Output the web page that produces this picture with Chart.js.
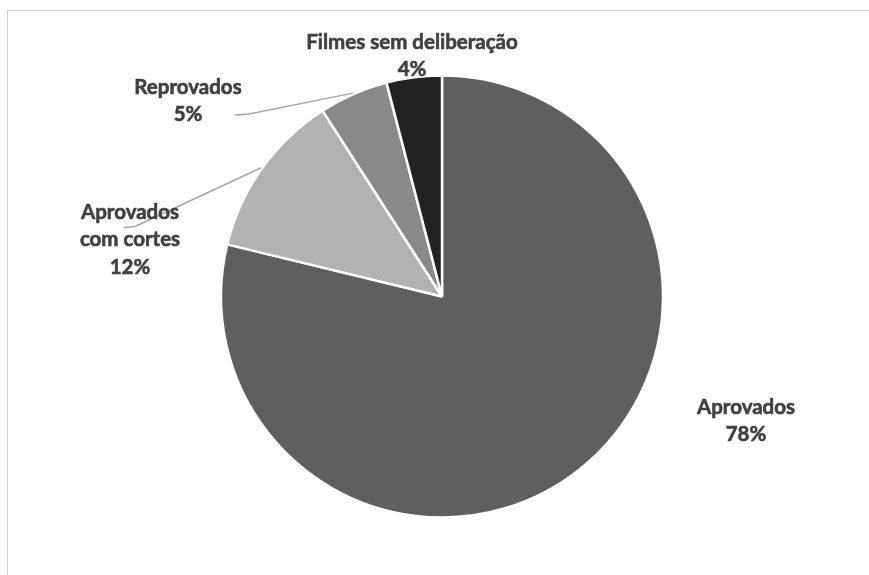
<!DOCTYPE html>
<html>
<head>
<meta charset="utf-8">
<script src="https://cdn.jsdelivr.net/npm/chart.js@4"></script>
<style>
  html, body { margin: 0; padding: 0; background: #ffffff; overflow: hidden; }
  #wrap { position: relative; width: 869px; height: 575px; }
  #frame { position: absolute; left: 7px; top: 10px; width: 900px; height: 600px; border: 1.5px solid #cfcfcf; box-sizing: border-box; }
  canvas { position: absolute; left: 0; top: 0; }
</style>
</head>
<body>
<div id="wrap">
  <div id="frame"></div>
  <canvas id="c" width="869" height="575"></canvas>
</div>
<script>
const categories = ["Aprovados", "Aprovados com cortes", "Reprovados", "Filmes sem deliberação"];
const labelLines = [["Aprovados"], ["Aprovados", "com cortes"], ["Reprovados"], ["Filmes sem deliberação"]];
const percentValues = [78, 12, 5, 4];
const sliceColors = ["#5f5f5f", "#b2b2b2", "#898989", "#222222"];

// label placement (styling only): text centre + first line y, optional leader elbow
const labelStyle = [
  { x: 746, y: 407, leader: null },
  { x: 130, y: 212, leader: [[124, 227.5], [135, 226.5]] },
  { x: 188, y: 87, leader: [[235, 115], [249, 114]] },
  { x: 412, y: 42, leader: null }
];

const labelPlugin = {
  id: 'outerLabels',
  afterDatasetsDraw(chart) {
    const ctx = chart.ctx;
    const meta = chart.getDatasetMeta(0);
    const data = chart.data.datasets[0].data;
    ctx.save();
    meta.data.forEach((arc, i) => {
      const p = arc.getProps(['x', 'y', 'startAngle', 'endAngle', 'outerRadius'], true);
      const mid = (p.startAngle + p.endAngle) / 2;
      const st = labelStyle[i];
      if (st.leader) {
        const r = p.outerRadius + 1;
        const ex = p.x + Math.cos(mid) * r;
        const ey = p.y + Math.sin(mid) * r;
        ctx.beginPath();
        ctx.strokeStyle = '#a6a6a6';
        ctx.lineWidth = 1.5;
        ctx.moveTo(st.leader[0][0], st.leader[0][1]);
        ctx.lineTo(st.leader[1][0], st.leader[1][1]);
        ctx.lineTo(ex, ey);
        ctx.stroke();
      }
      ctx.fillStyle = '#404040';
      ctx.strokeStyle = '#404040';
      ctx.lineWidth = 0.6;
      ctx.lineJoin = 'round';
      ctx.font = 'bold 20.5px Lato, "Open Sans", sans-serif';
      ctx.textAlign = 'center';
      ctx.textBaseline = 'middle';
      const lines = labelLines[i].concat([data[i] + '%']);
      lines.forEach((t, k) => {
        ctx.fillText(t, st.x, st.y + k * 27.6);
        ctx.strokeText(t, st.x, st.y + k * 27.6);
      });
    });
    ctx.restore();
  }
};

new Chart(document.getElementById('c'), {
  type: 'pie',
  data: {
    labels: categories,
    datasets: [{
      data: percentValues,
      backgroundColor: sliceColors,
      borderColor: '#ffffff',
      borderWidth: 2.5,
      radius: 221
    }]
  },
  options: {
    responsive: false,
    animation: false,
    devicePixelRatio: 1,
    layout: { padding: { left: 222, right: 207, top: 77, bottom: 59 } },
    plugins: {
      legend: { display: false },
      tooltip: { enabled: false },
      title: { display: false }
    }
  },
  plugins: [labelPlugin]
});
</script>
</body>
</html>
